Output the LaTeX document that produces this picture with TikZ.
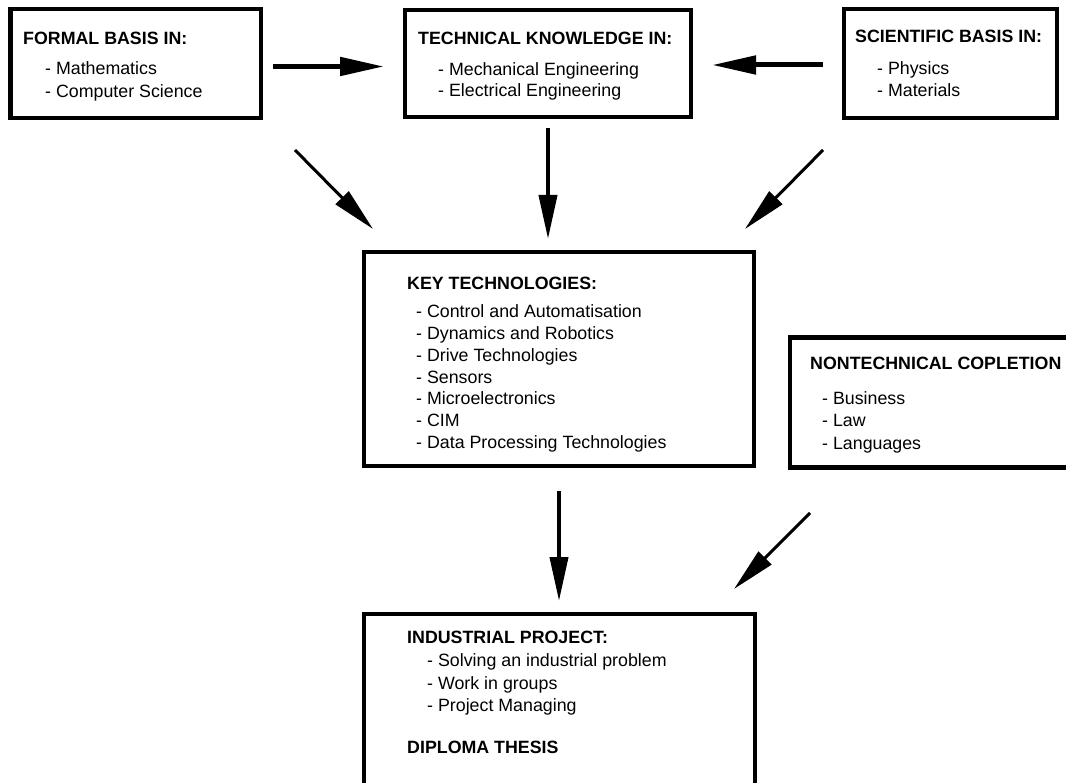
\documentclass[tikz,border=0pt]{standalone}
\usepackage{fontspec}
\setmainfont{Liberation Sans}
\usetikzlibrary{arrows.meta}
\begin{document}
\begin{tikzpicture}[x=1pt,y=-1pt,
  box/.style={draw, line width=4.5pt, inner sep=0pt, outer sep=0pt, anchor=north west},
  ttl/.style={font=\fontsize{17.8}{22}\selectfont\bfseries, inner sep=0pt, anchor=base west},
  itm/.style={font=\fontsize{17.8}{22}\selectfont, inner sep=0pt, anchor=base west},
  arr/.style={-{Triangle[length=44pt,width=18pt]}, line width=#1},
]
\useasboundingbox (0,0) rectangle (1066,783);
\clip (0,0) rectangle (1066,783);

% boxes
\node[box, minimum width=250.5pt, minimum height=109pt] (formal) at (10.5,9) {};
\node[box, minimum width=286pt, minimum height=107pt] (tech) at (405,10) {};
\node[box, minimum width=213pt, minimum height=109pt] (sci) at (844,9) {};
\node[box, minimum width=390pt, minimum height=214pt] (key) at (364,252) {};
\node[box, minimum width=320pt, minimum height=130pt] (nontech) at (790,337.5) {};
\node[box, minimum width=391pt, minimum height=250pt] (ind) at (364,614) {};

% texts: formal
\node[ttl] (f0) at (23,44.5) {FORMAL BASIS IN:};
\node[itm] (f1) at (45,74.5) {- Mathematics};
\node[itm] (f2) at (45,97.5) {- Computer Science};
% tech
\node[ttl] (t0) at (418,44.5) {TECHNICAL KNOWLEDGE IN:};
\node[itm] (t1) at (438,76) {- Mechanical Engineering};
\node[itm] (t2) at (438,96.5) {- Electrical Engineering};
% sci
\node[ttl] (s0) at (855,43) {SCIENTIFIC BASIS IN:};
\node[itm] (s1) at (877,75) {- Physics};
\node[itm] (s2) at (877,97) {- Materials};
% key
\node[ttl] (k0) at (407,289.5) {KEY TECHNOLOGIES:};
\node[itm] (k1) at (416,318) {- Control and Automatisation};
\node[itm] (k2) at (416,339.7) {- Dynamics and Robotics};
\node[itm] (k3) at (416,361.4) {- Drive Technologies};
\node[itm] (k4) at (416,383.1) {- Sensors};
\node[itm] (k5) at (416,404.8) {- Microelectronics};
\node[itm] (k6) at (416,426.5) {- CIM};
\node[itm] (k7) at (416,448.2) {- Data Processing Technologies};
% nontech
\node[ttl] (n0) at (810,370) {NONTECHNICAL COPLETION};
\node[itm] (n1) at (822,404.5) {- Business};
\node[itm] (n2) at (822,427) {- Law};
\node[itm] (n3) at (822,449.5) {- Languages};
% industrial
\node[ttl] (i0) at (407,643) {INDUSTRIAL PROJECT:};
\node[itm] (i1) at (427,666.5) {- Solving an industrial problem};
\node[itm] (i2) at (427,689) {- Work in groups};
\node[itm] (i3) at (427,711.5) {- Project Managing};
\node[ttl] (i4) at (407,753) {DIPLOMA THESIS};

% arrow end points
\coordinate (a1s) at (273,66.5);  \coordinate (a1e) at (384,66.5);
\coordinate (a2s) at (823,65);    \coordinate (a2e) at (712,65);
\coordinate (a3s) at (548,128);   \coordinate (a3e) at (548,239);
\coordinate (a4s) at (295,150);   \coordinate (a4e) at (373,229);
\coordinate (a5s) at (823,150);   \coordinate (a5e) at (745,229);
\coordinate (a6s) at (559,491);   \coordinate (a6e) at (559,601);
\coordinate (a7s) at (810,513);   \coordinate (a7e) at (734,589);

\draw[arr=5pt] (a1s) -- (a1e);
\draw[arr=5pt] (a2s) -- (a2e);
\draw[arr=4pt] (a3s) -- (a3e);
\draw[arr=3pt] (a4s) -- (a4e);
\draw[arr=3pt] (a5s) -- (a5e);
\draw[arr=4pt] (a6s) -- (a6e);
\draw[arr=3pt] (a7s) -- (a7e);
\end{tikzpicture}
\end{document}
